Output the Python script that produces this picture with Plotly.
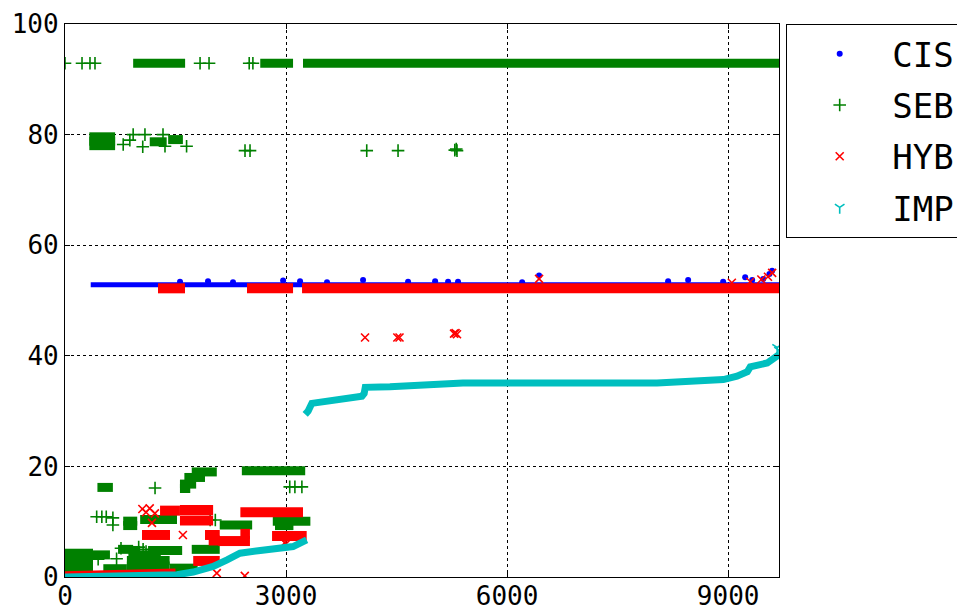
import plotly.graph_objects as go

# ---------------- data ----------------
series_names = ["CIS", "SEB", "HYB", "IMP"]

# CIS: dense run (polyline) + scattered points above the run
cis_run_x = [349, 9690]
cis_run_y = [52.85, 52.85]
cis_pts_x = [1561, 1941, 2280, 2960, 3190, 3556, 4045, 4656, 5023, 5199, 5334, 6204,
             6434, 8185, 8457, 8932, 9231, 9326, 9475, 9597, 9560]
cis_pts_y = [53.4, 53.5, 53.3, 53.6, 53.5, 53.3, 53.7, 53.4, 53.5, 53.4, 53.4, 53.3,
             54.5, 53.5, 53.7, 53.4, 54.2, 53.7, 53.9, 55.4, 54.8]

# SEB: dense runs (y, x_start, x_end) + single points
seb_run_y  = [92.9, 92.9, 92.9,
              78.0, 78.8, 79.6, 78.7, 79.1,
              19.2, 19.0, 18.0, 16.8, 16.0, 16.2,
              10.4, 10.1, 9.3, 4.8, 5.0, 5.0, 9.4, 10.1, 9.3,
              1.5, 2.5, 3.5, 4.3, 1.5, 4.0, 2.0, 3.0, 4.0, 4.8, 1.6]
seb_run_x0 = [925, 2650, 3230,
              330, 330, 330, 1150, 1400,
              2400, 1720, 1620, 1560, 1560, 440,
              1020, 790, 790, 1127, 720, 1720, 2100, 2820, 2850,
              0, 0, 0, 0, 520, 380, 840, 840, 860, 880, 1420]
seb_run_x1 = [1630, 3095, 9690,
              680, 680, 680, 1380, 1600,
              3260, 2060, 1900, 1780, 1700, 650,
              1520, 980, 980, 1590, 925, 2100, 2540, 3330, 3100,
              380, 380, 380, 380, 840, 610, 1420, 1420, 1300, 1020, 1800]
seb_pts_x = [0, 231, 339, 407, 1833, 1955, 2500, 2550,
             790, 880, 925, 1055, 1085, 1330, 1357, 1650, 2443, 2511,
             4095, 4520, 5290, 5310, 5320,
             1222, 650, 650, 3050, 3120, 3215, 1970, 2040, 430, 500, 560,
             1000, 1060, 1100, 450, 700, 760]
seb_pts_y = [92.9, 92.9, 92.9, 92.9, 92.9, 92.9, 92.9, 92.9,
             78.2, 79.0, 80.0, 77.8, 80.0, 80.0, 77.9, 77.9, 77.1, 77.1,
             77.1, 77.1, 77.2, 77.4, 77.1,
             16.1, 9.4, 10.7, 16.3, 16.3, 16.3, 10.3, 10.3, 10.9, 10.9, 10.9,
             5.4, 5.0, 4.6, 3.2, 3.3, 5.2]

# HYB: dense runs (y, x_start, x_end) + single points
hyb_run_y  = [52.2, 52.2, 52.2,
              12.0, 12.1, 10.2, 7.6, 2.9, 7.6, 6.6, 6.5, 7.8, 11.7, 7.4]
hyb_run_x0 = [1262, 2470, 3217,
              1290, 1560, 1560, 1045, 1740, 1900, 1950, 2080, 2380, 2380, 2810]
hyb_run_x1 = [1629, 3095, 9690,
              1560, 2010, 2010, 1425, 2100, 2100, 2100, 2510, 2510, 3230, 3280]
hyb_low_x = [0, 700, 1500]
hyb_low_y = [0.5, 0.7, 1.0]
hyb_pts_x = [1050, 1100, 1150, 1220, 1180, 1600, 2060, 2440, 2980, 3000,
             4072, 4510, 4540, 5280, 5300, 5320, 6434, 9597, 9540, 9450, 9300, 9050]
hyb_pts_y = [12.3, 11.7, 12.4, 11.5, 9.8, 7.6, 0.7, 0.2, 6.2, 6.0,
             43.3, 43.3, 43.3, 44.0, 44.1, 43.9, 53.9, 55.0, 54.3, 53.8, 53.4, 53.2]

# IMP: two runs (polylines) + a point
imp_low_x = [0, 1400, 1520, 1740, 2010, 2200, 2375, 2650, 2960, 3095, 3280]
imp_low_y = [0.0, 0.1, 0.4, 0.9, 1.9, 3.1, 4.3, 4.8, 5.2, 5.5, 6.7]
imp_high_x = [3260, 3300, 3350, 3600, 3830, 4030, 4060, 4075, 4410, 5130, 5400,
              8035, 8935, 9120, 9260, 9300, 9530, 9690]
imp_high_y = [29.4, 30.0, 31.4, 31.8, 32.3, 32.7, 33.2, 34.3, 34.4, 34.8, 35.1,
              35.1, 35.7, 36.3, 37.1, 38.0, 38.7, 40.2]
imp_pts_x = [9665, 9690]
imp_pts_y = [41.5, 41.0]

colors = {"CIS": "#0000ff", "SEB": "#008000", "HYB": "#ff0000", "IMP": "#00bfbf"}
band_width = {"CIS": 5, "SEB": 9, "HYB": 10, "IMP": 7}


def runs_to_xy(ys, x0s, x1s):
    xs, yy = [], []
    for y, a, b in zip(ys, x0s, x1s):
        xs += [a, b, None]
        yy += [y, y, None]
    return xs, yy


fig = go.Figure()

# CIS
fig.add_trace(go.Scatter(x=cis_run_x, y=cis_run_y, mode="lines", showlegend=False,
                         legendgroup="CIS", line=dict(color=colors["CIS"], width=band_width["CIS"])))
fig.add_trace(go.Scatter(x=cis_pts_x, y=cis_pts_y, mode="markers", name="CIS", legendgroup="CIS",
                         marker=dict(symbol="circle", size=6, color=colors["CIS"])))
# SEB
sx, sy = runs_to_xy(seb_run_y, seb_run_x0, seb_run_x1)
fig.add_trace(go.Scatter(x=sx, y=sy, mode="lines", showlegend=False, legendgroup="SEB",
                         line=dict(color=colors["SEB"], width=band_width["SEB"])))
fig.add_trace(go.Scatter(x=seb_pts_x, y=seb_pts_y, mode="markers", name="SEB", legendgroup="SEB",
                         marker=dict(symbol="cross-thin", size=9,
                                     line=dict(color=colors["SEB"], width=1.6))))
# HYB
hx, hy = runs_to_xy(hyb_run_y, hyb_run_x0, hyb_run_x1)
fig.add_trace(go.Scatter(x=hx, y=hy, mode="lines", showlegend=False, legendgroup="HYB",
                         line=dict(color=colors["HYB"], width=band_width["HYB"])))
fig.add_trace(go.Scatter(x=hyb_low_x, y=hyb_low_y, mode="lines", showlegend=False, legendgroup="HYB",
                         line=dict(color=colors["HYB"], width=6)))
fig.add_trace(go.Scatter(x=hyb_pts_x, y=hyb_pts_y, mode="markers", name="HYB", legendgroup="HYB",
                         marker=dict(symbol="x-thin", size=8,
                                     line=dict(color=colors["HYB"], width=1.6))))
# IMP
fig.add_trace(go.Scatter(x=imp_low_x, y=imp_low_y, mode="lines", showlegend=False, legendgroup="IMP",
                         line=dict(color=colors["IMP"], width=band_width["IMP"])))
fig.add_trace(go.Scatter(x=imp_high_x, y=imp_high_y, mode="lines", showlegend=False, legendgroup="IMP",
                         line=dict(color=colors["IMP"], width=band_width["IMP"])))
fig.add_trace(go.Scatter(x=imp_pts_x, y=imp_pts_y, mode="markers", name="IMP", legendgroup="IMP",
                         marker=dict(symbol="y-down", size=8,
                                     line=dict(color=colors["IMP"], width=1.6))))

axis_common = dict(showline=True, linecolor="black", linewidth=1.2, mirror="ticks",
                   ticks="inside", ticklen=5, tickcolor="black",
                   showgrid=True, gridcolor="black", griddash="dot", gridwidth=1,
                   zeroline=False, tickfont=dict(family="DejaVu Sans Mono", size=26, color="black"))

fig.update_layout(
    width=957, height=608,
    margin=dict(l=65, r=178, t=24, b=31, autoexpand=False),
    plot_bgcolor="white", paper_bgcolor="white",
    xaxis=dict(range=[0, 9690], tickvals=[0, 3000, 6000, 9000], ticklabelstandoff=-4,
               **axis_common),
    yaxis=dict(range=[0, 100], tickvals=[0, 20, 40, 60, 80, 100], **axis_common),
    legend=dict(x=1.0098, y=1, xanchor="left", yanchor="top",
                bgcolor="white", bordercolor="black", borderwidth=1.2,
                font=dict(family="DejaVu Sans Mono", size=34, color="black"),
                itemwidth=95, tracegroupgap=4),
)

fig.write_html("out.html", config={"displayModeBar": False},
               post_script="document.body.style.margin='0';document.body.style.overflow='hidden';")
